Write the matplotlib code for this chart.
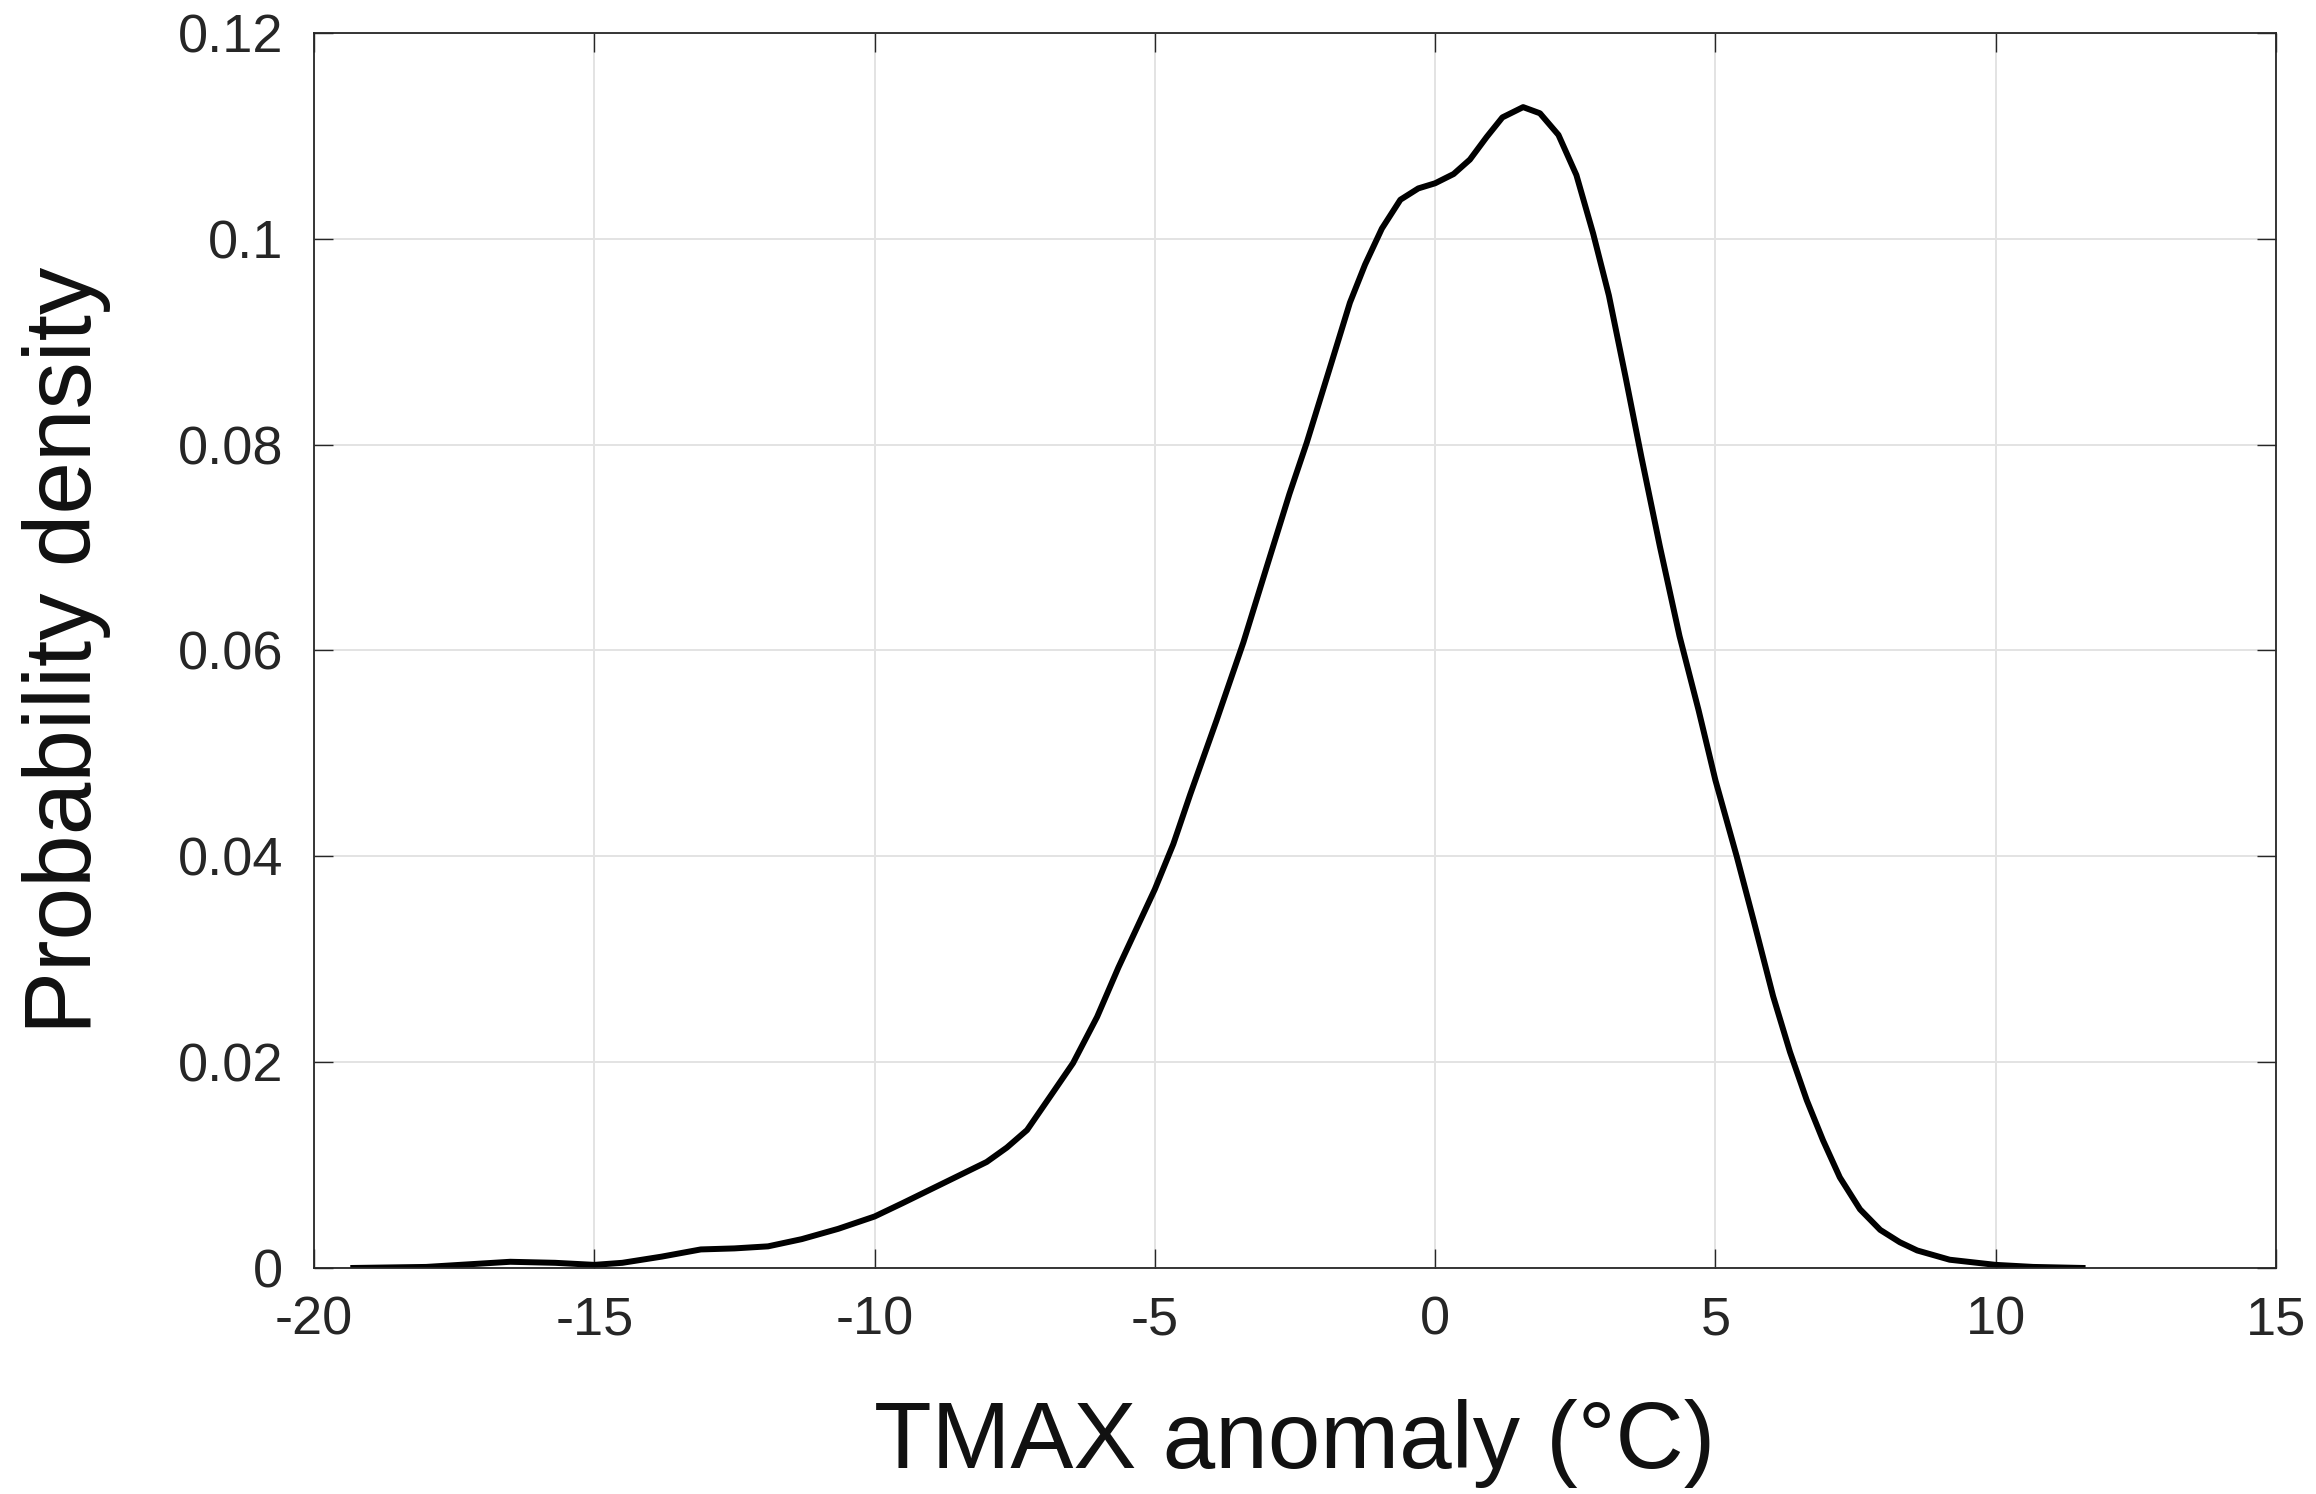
import numpy as np
import matplotlib
matplotlib.use("Agg")
import matplotlib.pyplot as plt

plt.rcParams['font.family'] = ['Liberation Sans', 'DejaVu Sans']

# kernel density estimate of TMAX anomaly
anomaly = [-19.3, -18.0, -16.5, -15.7, -15.0, -14.5, -13.8, -13.1, -12.5, -11.9,
           -11.3, -10.65, -10.0, -9.5, -8.6, -8.0, -7.64, -7.28, -6.85, -6.46,
           -6.03, -5.65, -5.0, -4.67, -4.37, -3.9, -3.42, -3.0, -2.6, -2.29,
           -1.87, -1.52, -1.25, -0.95, -0.62, -0.3, 0.0, 0.33, 0.62, 0.92,
           1.2, 1.57, 1.87, 2.2, 2.52, 2.82, 3.1, 3.4, 3.68, 4.01,
           4.36, 4.7, 5.0, 5.38, 5.68, 6.03, 6.33, 6.63, 6.92, 7.22,
           7.58, 7.94, 8.29, 8.6, 9.18, 10.0, 10.67, 11.55]
density = [0.0, 0.0001, 0.0006, 0.0005, 0.0003, 0.0005, 0.0011, 0.0018, 0.0019, 0.0021,
           0.0028, 0.0038, 0.0050, 0.0063, 0.0087, 0.0103, 0.0117, 0.0134, 0.0168, 0.0199,
           0.0244, 0.0292, 0.0368, 0.0412, 0.0460, 0.0532, 0.0608, 0.0682, 0.0752, 0.0802,
           0.0876, 0.0938, 0.0975, 0.1010, 0.1038, 0.1049, 0.1054, 0.1063, 0.1077, 0.1099,
           0.1118, 0.1128, 0.1122, 0.1101, 0.1062, 0.1005, 0.0945, 0.0865, 0.0788, 0.0701,
           0.0614, 0.0542, 0.0474, 0.0400, 0.0338, 0.0264, 0.0210, 0.0163, 0.0124, 0.0088,
           0.0057, 0.0037, 0.0025, 0.0017, 0.0008, 0.0003, 0.0001, 0.0]

xticks = [-20, -15, -10, -5, 0, 5, 10, 15]
yticks = [0, 0.02, 0.04, 0.06, 0.08, 0.1, 0.12]
ytick_labels = ['0', '0.02', '0.04', '0.06', '0.08', '0.1', '0.12']

fig = plt.figure(figsize=(23.16, 14.94), dpi=100)
ax = fig.add_axes([0.1356, 0.1513, 0.8471, 0.8266])

ax.plot(anomaly, density, color='black', lw=4.3, solid_joinstyle='round')

ax.set_xlim(-20, 15)
ax.set_ylim(0, 0.12)
ax.set_xticks(xticks)
ax.set_xticklabels([str(t) for t in xticks])
ax.set_yticks(yticks)
ax.set_yticklabels(ytick_labels)

ax.grid(True, color='#e3e3e3', lw=1.4)
ax.set_axisbelow(True)
for s in ax.spines.values():
    s.set_color('#262626')
    s.set_linewidth(1.3)
ax.tick_params(direction='in', length=14, width=1, color='#262626',
               top=True, right=True, labelsize=39, labelcolor='#262626')
ax.tick_params(axis='x', pad=20)
ax.tick_params(axis='y', pad=22)

ax.set_xlabel('TMAX anomaly (°C)', fontsize=68, labelpad=38, color='#111111')
ax.set_ylabel('Probability density', fontsize=68, labelpad=48, color='#111111')

fig.savefig('out.png', dpi=100)
